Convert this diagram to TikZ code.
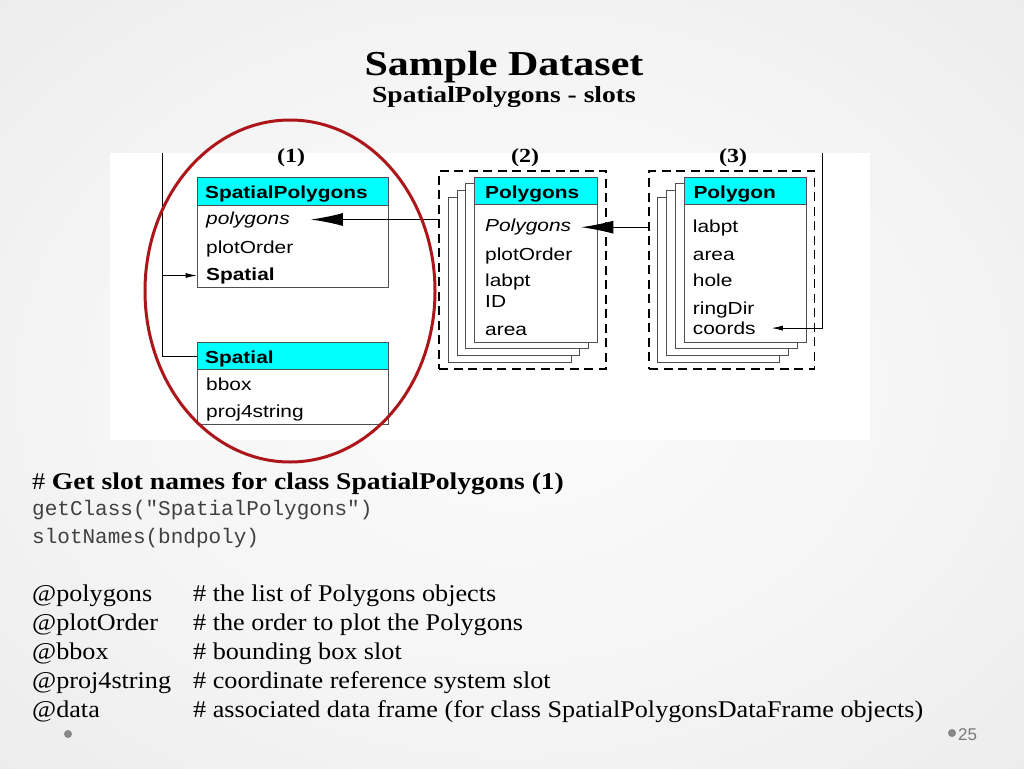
\documentclass[tikz,border=0pt]{standalone}
\usepackage{fontspec}
\setmainfont[FakeStretch=1.09]{Liberation Serif}
\setmonofont{Liberation Mono}
\newfontfamily\boxfont[FakeStretch=1.2]{Liberation Sans}
\newfontfamily\headfont[FakeStretch=1.2]{Liberation Serif}
\newfontfamily\leadfont[FakeStretch=1.15]{Liberation Serif}
\newfontfamily\pagefont{Liberation Sans}
\usetikzlibrary{arrows.meta}
\definecolor{bgin}{RGB}{251,251,251}
\definecolor{bgmid}{RGB}{245,245,245}
\definecolor{bgout}{RGB}{228,228,228}
\definecolor{bgcorner}{RGB}{212,212,212}
\definecolor{circred}{RGB}{172,22,26}
\definecolor{headcyan}{RGB}{0,255,255}
\definecolor{codegray}{RGB}{64,64,64}
\definecolor{boxline}{RGB}{80,80,80}
\definecolor{dotgray}{RGB}{135,135,135}
\pgfdeclareradialshading{slidebg}{\pgfpoint{0bp}{0bp}}{color(0bp)=(bgin); color(20bp)=(bgmid); color(50bp)=(bgout); color(71bp)=(bgcorner)}
\begin{document}
\begin{tikzpicture}[x=1pt,y=-1pt,
    slot/.style={anchor=base west,inner sep=0pt,font=\boxfont\fontsize{17.4}{20}\selectfont},
    classbox/.style={draw=boxline,fill=white,line width=0.9pt,anchor=north west,inner sep=0pt},
    classhead/.style={classbox,fill=headcyan,minimum height=27.6pt},
    grpbox/.style={draw=black,line width=1.7pt,dash pattern=on 9pt off 5.5pt,inner sep=0pt},
    grplabel/.style={anchor=base,inner sep=0pt,font=\headfont\bfseries\fontsize{20}{24}\selectfont},
    textline/.style={anchor=base west,inner sep=0pt,font=\fontsize{24}{28}\selectfont},
    codeline/.style={anchor=base west,inner sep=0pt,text=codegray,font=\ttfamily\fontsize{21}{24}\selectfont},
    bigtip/.style={-{Latex[length=32pt,width=13pt]},line width=1pt},
    smalltip/.style={-{Latex[length=11pt,width=5pt]},line width=0.8pt}]
  \useasboundingbox (0,0) rectangle (1024,768);
  \shade[shading=slidebg] (0,0) rectangle (1024,768);
  \fill[white] (110,153) rectangle (870,440);

  % titles
  \node[anchor=base,font=\headfont\bfseries\fontsize{35}{40}\selectfont] (title) at (504,75) {Sample Dataset};
  \node[anchor=base,font=\headfont\bfseries\fontsize{23}{27}\selectfont] (subtitle) at (504,102.7) {SpatialPolygons - slots};

  % (1) SpatialPolygons and Spatial
  \node[classbox,minimum width=191pt,minimum height=109.4pt] (spbox) at (196.7,177.3) {};
  \node[classhead,minimum width=191pt] (sphead) at (196.7,177.3) {};
  \node[slot,font=\boxfont\bfseries\fontsize{17.4}{20}\selectfont] (spName) at (205,198.3) {SpatialPolygons};
  \node[slot,font=\boxfont\itshape\fontsize{17.4}{20}\selectfont] (spPolygons) at (206,224) {polygons};
  \node[slot] (spOrder) at (206,253.3) {plotOrder};
  \node[slot,font=\boxfont\bfseries\fontsize{17.4}{20}\selectfont] (spSpatial) at (206,280) {Spatial};

  \node[classbox,minimum width=191pt,minimum height=82.3pt] (sbox) at (196.7,341.7) {};
  \node[classhead,minimum width=191pt] (shead) at (196.7,341.7) {};
  \node[slot,font=\boxfont\bfseries\fontsize{17.4}{20}\selectfont] (sName) at (205,363.3) {Spatial};
  \node[slot] (sBbox) at (206,390.7) {bbox};
  \node[slot] (sProj) at (206,417.3) {proj4string};

  % (2) Polygons
  \node[grpbox,minimum width=166.4pt,minimum height=198.6pt] (grpB) at (522.5,270) {};
  \foreach \k in {3,2,1}
    \draw[classbox] (474.3-8.5*\k,176.7+6.8*\k) rectangle (596.7-8.5*\k,341.7+6.8*\k);
  \node[classbox,minimum width=122.4pt,minimum height=165pt] (psbox) at (474.3,176.7) {};
  \node[classhead,minimum width=122.4pt] (pshead) at (474.3,176.7) {};
  \node[slot,font=\boxfont\bfseries\fontsize{17.4}{20}\selectfont] (psName) at (485,198.3) {Polygons};
  \node[slot,font=\boxfont\itshape\fontsize{17.4}{20}\selectfont] (psPolygons) at (485,231.7) {Polygons};
  \node[slot] (psOrder) at (485,260) {plotOrder};
  \node[slot] (psLabpt) at (485,286.7) {labpt};
  \node[slot] (psID) at (485,307.3) {ID};
  \node[slot] (psArea) at (485,335) {area};

  % (3) Polygon
  \node[grpbox,minimum width=165.3pt,minimum height=198.6pt] (grpC) at (731.7,270) {};
  \foreach \k in {3,2,1}
    \draw[classbox] (684-8.7*\k,176.7+6.8*\k) rectangle (806-8.7*\k,341.7+6.8*\k);
  \node[classbox,minimum width=122pt,minimum height=165pt] (pbox) at (684,176.7) {};
  \node[classhead,minimum width=122pt] (phead) at (684,176.7) {};
  \node[slot,font=\boxfont\bfseries\fontsize{17.4}{20}\selectfont] (pName) at (693.3,198.3) {Polygon};
  \node[slot] (pLabpt) at (692.7,232.3) {labpt};
  \node[slot] (pArea) at (692.7,260) {area};
  \node[slot] (pHole) at (692.7,286.7) {hole};
  \node[slot] (pRingDir) at (692.7,314) {ringDir};
  \node[slot] (pCoords) at (692.7,334.3) {coords};

  \node[grplabel] (tagA) at (291,162) {(1)};
  \node[grplabel] (tagB) at (525,162) {(2)};
  \node[grplabel] (tagC) at (733,162) {(3)};

  \coordinate (ltop) at (162.3,153);
  \coordinate (rtop) at (822.7,153);
  \begin{scope}[line width=0.8pt]
    \draw (ltop) |- (shead.west);
    \draw[smalltip] (ltop |- spSpatial) -- (spbox.west |- spSpatial);
    \draw[smalltip] (rtop) |- ([xshift=16pt]pCoords.east);
    \draw[bigtip] (grpB.west |- spPolygons) -- ([xshift=21pt]spPolygons.east);
    \draw[bigtip] (grpC.west |- psPolygons) -- ([xshift=10pt]psPolygons.east);
  \end{scope}

  \draw[circred,line width=3pt] (290,291) ellipse [x radius=145pt,y radius=171pt];

  % slot names
  \node[textline] (getHead) at (32,489) {\# {\leadfont\bfseries Get slot names for class SpatialPolygons (1)}};
  \node[codeline] (getClass) at (32,515) {getClass("SpatialPolygons")};
  \node[codeline] (slotNames) at (32,543) {slotNames(bndpoly)};
  \foreach \name/\note [count=\i] in {polygons/the list of Polygons objects,
      plotOrder/the order to plot the Polygons,
      bbox/bounding box slot,
      proj4string/coordinate reference system slot,
      data/associated data frame (for class SpatialPolygonsDataFrame objects)} {
    \node[textline] (at\i) at (32,601.7+29*\i-29) {@\name};
    \node[textline] (note\i) at (193,601.7+29*\i-29) {\# \note};
  }

  \fill[dotgray] (68,734) circle [radius=4pt];
  \fill[dotgray] (952,733) circle [radius=4pt];
  \node[anchor=base west,inner sep=0pt,text=dotgray!90!black,font=\pagefont\fontsize{17}{20}\selectfont] (pageno) at (958,740) {25};
\end{tikzpicture}
\end{document}
